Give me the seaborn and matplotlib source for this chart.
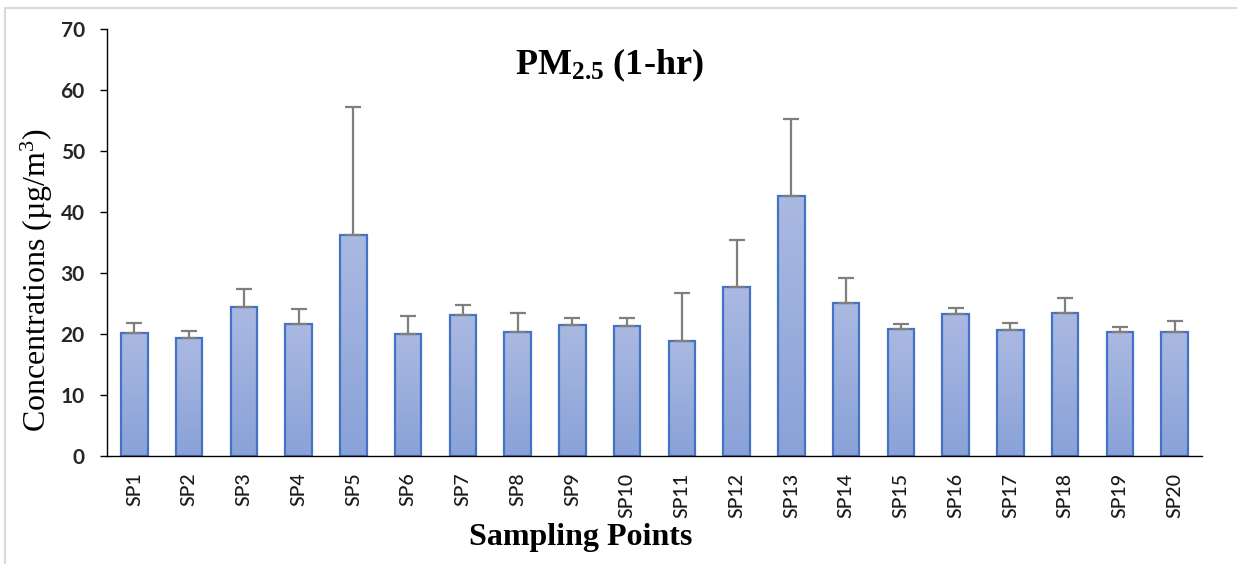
import numpy as np
import pandas as pd
import matplotlib
matplotlib.use("Agg")
import matplotlib.pyplot as plt
import seaborn as sns
from matplotlib.colors import LinearSegmentedColormap
from matplotlib.lines import Line2D

categories = ["SP1", "SP2", "SP3", "SP4", "SP5", "SP6", "SP7", "SP8", "SP9", "SP10",
              "SP11", "SP12", "SP13", "SP14", "SP15", "SP16", "SP17", "SP18", "SP19", "SP20"]
means = [20.1, 19.3, 24.4, 21.6, 36.2, 20.0, 23.1, 20.4, 21.5, 21.3,
         18.9, 27.7, 42.7, 25.1, 20.9, 23.2, 20.7, 23.5, 20.3, 20.4]
errors = [1.65, 1.25, 3.0, 2.5, 21.0, 2.95, 1.6, 3.0, 1.2, 1.4,
          7.9, 7.65, 12.5, 4.0, 0.7, 1.1, 1.05, 2.4, 0.85, 1.8]
yticks = [0, 10, 20, 30, 40, 50, 60, 70]

df = pd.DataFrame({"cat": categories, "val": means})

sns.set_theme(style="white")
plt.rcParams["mathtext.fontset"] = "custom"
plt.rcParams["mathtext.rm"] = "Liberation Serif"
plt.rcParams["mathtext.it"] = "Liberation Serif:italic"
plt.rcParams["mathtext.bf"] = "Liberation Serif:bold"

fig = plt.figure(figsize=(12.37, 5.64), dpi=100)
ax = fig.add_axes([107 / 1237, 1 - 456 / 564, 1095 / 1237, 427 / 564])

sns.barplot(data=df, x="cat", y="val", ax=ax, errorbar=None, width=0.48,
            color="#9AAEDD", edgecolor="#4472C4", linewidth=1.6, saturation=1)

cmap = LinearSegmentedColormap.from_list("g", ["#8AA2D8", "#AAB9E1"])
grad = np.linspace(0, 1, 256).reshape(-1, 1)
centers = []
for p in ax.patches:
    x0, y0, w, h = p.get_x(), p.get_y(), p.get_width(), p.get_height()
    centers.append(x0 + w / 2)
    im = ax.imshow(grad, cmap=cmap, origin="lower", aspect="auto",
                   extent=[x0, x0 + w, y0, y0 + h], zorder=p.get_zorder() - 0.01)
    im.set_clip_path(p)
    p.set_facecolor("none")

ax.errorbar(centers, means, yerr=[np.zeros(len(errors)), errors], fmt="none",
            ecolor="#7F7F7F", elinewidth=1.6, capsize=5.5, capthick=1.6, zorder=1)

ax.set_xlim(-0.5, len(categories) - 0.5)
ax.set_ylim(0, 70)
ax.set_yticks(yticks)
ax.set_xlabel("")
ax.set_ylabel("")
for s in ["top", "right"]:
    ax.spines[s].set_visible(False)
for s in ["left", "bottom"]:
    ax.spines[s].set_color("black")
    ax.spines[s].set_linewidth(1.0)
ax.tick_params(axis="y", which="major", direction="out", length=5, width=1,
               color="black", left=True, pad=11)
ax.tick_params(axis="x", length=0, pad=12)
for lab in ax.get_yticklabels():
    lab.set_fontfamily("Lato")
    lab.set_fontweight("bold")
    lab.set_fontsize(15)
    lab.set_color("#262626")
for lab in ax.get_xticklabels():
    lab.set_fontfamily("Lato")
    lab.set_fontweight("medium")
    lab.set_fontsize(14)
    lab.set_rotation(90)
    lab.set_color("#1a1a1a")

ax.text(0.459, 0.915, r"PM$_{\mathbf{2.5}}$ (1-hr)", transform=ax.transAxes,
        ha="center", va="center", fontsize=26, fontweight="bold",
        family="Liberation Serif", color="black")
fig.text(581 / 1237, 1 - 538 / 564, "Sampling Points", ha="center", va="center",
         fontsize=23, fontweight="bold", family="Liberation Serif", color="black")
fig.text(37 / 1237, 1 - 280 / 564, r"Concentrations (µg/m$^3$)", ha="center",
         va="center", rotation=90, fontsize=23, family="Liberation Serif", color="black")

fig.add_artist(Line2D([5 / 1237, 1], [1 - 8 / 564, 1 - 8 / 564], color="#D9D9D9",
                      lw=1.5, transform=fig.transFigure))
fig.add_artist(Line2D([5 / 1237, 5 / 1237], [0, 1 - 8 / 564], color="#D9D9D9",
                      lw=1.5, transform=fig.transFigure))

fig.savefig("out.png", dpi=100, facecolor="white")
